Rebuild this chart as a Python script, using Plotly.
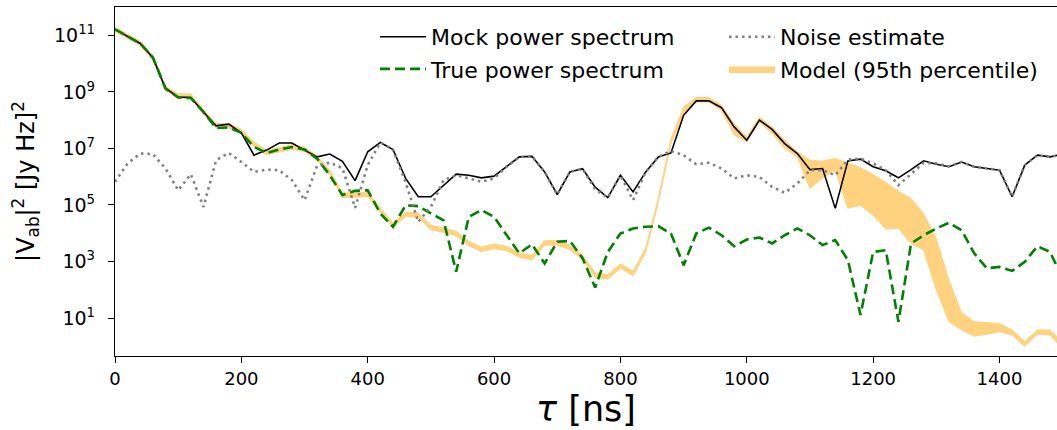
import numpy as np
import plotly.graph_objects as go

# delay axis [ns]
tau = [20 * k for k in range(76)]

# log10 of |V_ab|^2 [Jy Hz]^2
mock_log10 = [11.21, 10.96, 10.71, 10.21, 9.12, 8.82, 8.80, 8.29, 7.80, 7.86,
              7.55, 6.76, 6.94, 7.19, 7.19, 6.94, 6.70, 6.80, 6.54, 5.86,
              6.88, 7.21, 6.96, 5.94, 5.29, 5.29, 5.70, 6.09, 6.05, 5.96,
              6.02, 6.35, 6.70, 6.72, 6.17, 5.37, 6.17, 6.28, 5.63, 5.26,
              6.05, 5.46, 6.17, 6.70, 6.84, 8.17, 8.68, 8.68, 8.44, 7.76,
              7.29, 8.00, 7.67, 7.17, 6.82, 6.25, 6.29, 4.88, 6.56, 6.62,
              6.35, 6.21, 5.96, 6.25, 6.56, 6.44, 6.35, 6.52, 6.35, 6.29,
              6.23, 5.29, 6.41, 6.76, 6.70, 6.80]

true_log10 = [11.21, 10.96, 10.71, 10.21, 9.12, 8.80, 8.78, 8.29, 7.72, 7.74,
              7.55, 7.05, 6.84, 6.96, 7.05, 6.96, 6.64, 6.05, 5.35, 5.50,
              5.52, 4.70, 4.23, 4.99, 4.96, 4.70, 4.46, 2.64, 4.58, 4.82,
              4.58, 3.93, 3.29, 3.61, 2.93, 3.70, 3.73, 3.12, 2.08, 3.34,
              3.99, 4.17, 4.23, 4.25, 3.99, 2.87, 3.99, 4.20, 3.93, 3.54,
              3.78, 3.85, 3.64, 3.93, 4.17, 3.93, 3.58, 3.76, 3.05, 1.11,
              3.34, 3.40, 0.87, 3.64, 3.93, 4.17, 4.37, 4.11, 3.29, 2.76,
              2.81, 2.67, 2.99, 3.54, 3.34, 2.40]

noise_log10 = [5.82, 6.47, 6.82, 6.80, 6.29, 5.52, 6.09, 4.93, 6.58, 6.84,
               6.52, 6.17, 6.25, 6.23, 5.88, 5.17, 6.40, 6.50, 6.30, 4.90,
               6.41, 7.21, 6.96, 5.80, 4.40, 4.93, 5.88, 6.05, 5.94, 5.82,
               5.94, 6.35, 6.70, 6.72, 6.17, 5.37, 6.17, 6.28, 5.55, 5.26,
               6.05, 5.17, 6.17, 6.70, 6.91, 6.76, 6.44, 6.49, 6.29, 5.94,
               6.05, 5.99, 5.64, 5.43, 5.76, 6.23, 6.23, 6.05, 6.60, 6.64,
               6.47, 6.23, 5.70, 6.11, 6.49, 6.47, 6.37, 6.52, 6.35, 6.29,
               6.23, 5.29, 6.41, 6.76, 6.70, 6.80]

model_lo_log10 = [11.13, 10.88, 10.63, 10.13, 9.04, 8.77, 8.77, 8.21, 7.72, 7.72,
                  7.52, 7.07, 6.78, 6.87, 6.97, 6.89, 6.57, 6.07, 5.27, 5.27,
                  5.30, 4.74, 4.21, 4.59, 4.56, 4.12, 4.03, 3.91, 3.56, 3.35,
                  3.46, 3.38, 3.15, 3.06, 3.58, 3.58, 3.42, 3.07, 2.44, 2.38,
                  2.76, 2.50, 3.32, 5.09, 7.17, 8.23, 8.64, 8.64, 8.35, 7.47,
                  7.23, 7.94, 7.53, 7.00, 6.70, 5.58, 5.95, 6.23, 4.88, 4.99,
                  4.64, 4.15, 4.17, 3.64, 3.40, 2.00, 0.87, 0.58, 0.36, 0.43,
                  0.52, 0.40, 0.00, 0.43, 0.40, -0.10]

model_hi_log10 = [11.29, 11.04, 10.79, 10.29, 9.20, 8.93, 8.93, 8.37, 7.88, 7.88,
                  7.68, 7.23, 6.94, 7.03, 7.13, 7.05, 6.73, 6.23, 5.43, 5.43,
                  5.46, 4.90, 4.37, 4.75, 4.72, 4.28, 4.19, 4.07, 3.72, 3.51,
                  3.62, 3.54, 3.31, 3.22, 3.74, 3.74, 3.58, 3.23, 2.60, 2.54,
                  2.92, 2.66, 3.48, 5.25, 7.33, 8.47, 8.80, 8.80, 8.53, 7.88,
                  7.41, 8.11, 7.76, 7.29, 6.88, 6.58, 6.55, 6.64, 6.49, 6.32,
                  6.08, 5.80, 5.48, 5.23, 4.70, 3.80, 2.34, 1.19, 0.87, 0.83,
                  0.81, 0.58, 0.17, 0.58, 0.58, 0.15]

def lin(v):
    return [10.0 ** x for x in v]

FONT = "DejaVu Sans"
fig = go.Figure()

fig.add_trace(go.Scatter(x=tau, y=lin(model_lo_log10), mode="lines",
                         line=dict(color="#FFD280", width=1), showlegend=False,
                         hoverinfo="skip"))
fig.add_trace(go.Scatter(x=tau, y=lin(model_hi_log10), mode="lines",
                         line=dict(color="#FFD280", width=1), fill="tonexty",
                         fillcolor="#FFD280", name="Model (95th percentile)",
                         legend="legend4"))
fig.add_trace(go.Scatter(x=tau, y=lin(mock_log10), mode="lines",
                         line=dict(color="black", width=1.6),
                         name="Mock power spectrum", legend="legend"))
fig.add_trace(go.Scatter(x=tau, y=lin(true_log10), mode="lines",
                         line=dict(color="green", width=2.6, dash="10px,5px"),
                         name="True power spectrum", legend="legend2"))
fig.add_trace(go.Scatter(x=tau, y=lin(noise_log10), mode="lines",
                         line=dict(color="gray", width=2.6, dash="2.5px,4px"),
                         name="Noise estimate", legend="legend3"))

yt = [1e1, 1e3, 1e5, 1e7, 1e9, 1e11]
ytxt = ["10<sup>1</sup>", "10<sup>3</sup>", "10<sup>5</sup>", "10<sup>7</sup>",
        "10<sup>9</sup>", "10<sup>11</sup>"]

leg_common = dict(bgcolor="rgba(0,0,0,0)", font=dict(family=FONT, size=22, color="black"),
                  xanchor="left", yanchor="middle", itemwidth=46)
fig.update_layout(
    width=1057, height=430,
    margin=dict(l=115, r=0, t=7, b=74, autoexpand=False),
    paper_bgcolor="white", plot_bgcolor="white",
    font=dict(family=FONT, color="black"),
    legend=dict(x=0.276, y=0.914, **leg_common),
    legend2=dict(x=0.276, y=0.822, **leg_common),
    legend3=dict(x=0.6465, y=0.914, **leg_common),
    legend4=dict(x=0.6465, y=0.822, **leg_common),
    xaxis=dict(range=[0, 1491], tickvals=[0, 200, 400, 600, 800, 1000, 1200, 1400],
               showline=True, linecolor="black", linewidth=1.3, mirror=True,
               ticks="outside", ticklen=6, tickwidth=1.3, tickcolor="black",
               showgrid=False, zeroline=False,
               tickfont=dict(family=FONT, size=18, color="black"),
               title=dict(text="<i>τ</i> [ns]", font=dict(family=FONT, size=35, color="black"),
                          standoff=6)),
    yaxis=dict(type="log", range=[-0.34, 12.0], tickvals=yt, ticktext=ytxt,
               showline=True, linecolor="black", linewidth=1.3,
               ticks="outside", ticklen=6, tickwidth=1.3, tickcolor="black",
               ticklabelstandoff=9,
               showgrid=False, zeroline=False,
               tickfont=dict(family=FONT, size=19, color="black"),
               title=dict(text="|V<sub>ab</sub>|<sup>2</sup> [Jy Hz]<sup>2</sup>",
                          font=dict(family=FONT, size=24, color="black"), standoff=12)),
)

fig.write_html("out.html")
